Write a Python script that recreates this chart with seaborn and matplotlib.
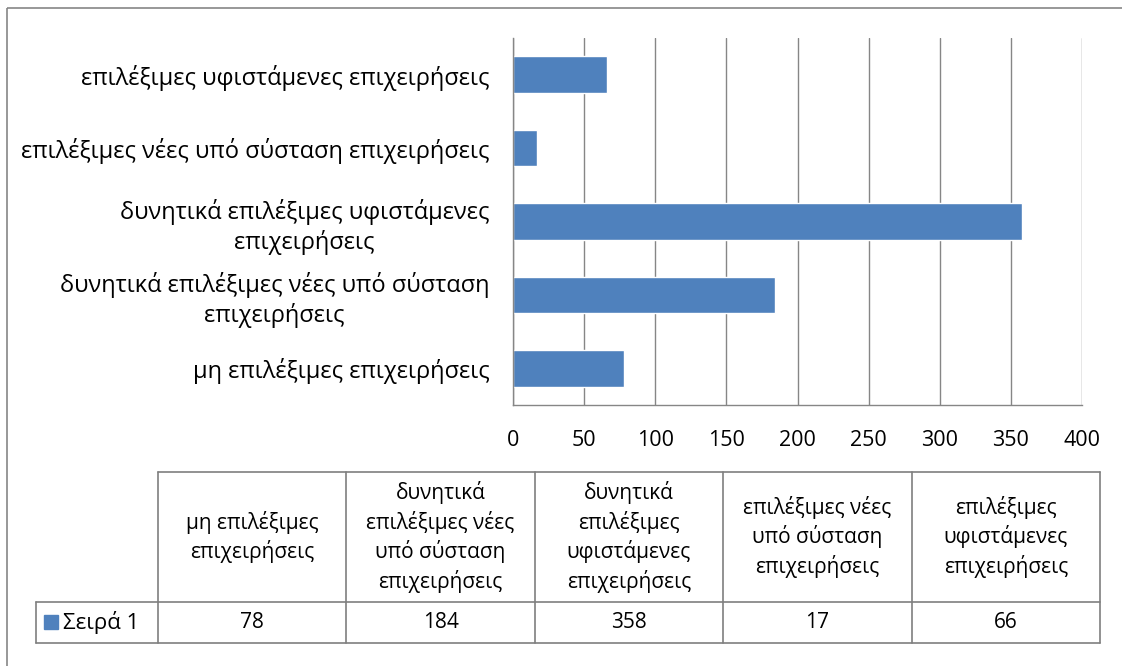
import numpy as np
import pandas as pd
import matplotlib
matplotlib.use('Agg')
import matplotlib.pyplot as plt
import seaborn as sns
from matplotlib.patches import Rectangle
from matplotlib.lines import Line2D

# data (table order)
categories = ['μη επιλέξιμες επιχειρήσεις',
              'δυνητικά επιλέξιμες νέες υπό σύσταση επιχειρήσεις',
              'δυνητικά επιλέξιμες υφιστάμενες επιχειρήσεις',
              'επιλέξιμες νέες υπό σύσταση επιχειρήσεις',
              'επιλέξιμες υφιστάμενες επιχειρήσεις']
values = [78, 184, 358, 17, 66]
series_name = 'Σειρά 1'

# wrapped labels
axis_labels = ['μη επιλέξιμες επιχειρήσεις',
               'δυνητικά επιλέξιμες νέες υπό σύσταση\nεπιχειρήσεις',
               'δυνητικά επιλέξιμες υφιστάμενες\nεπιχειρήσεις',
               'επιλέξιμες νέες υπό σύσταση επιχειρήσεις',
               'επιλέξιμες υφιστάμενες επιχειρήσεις']
table_labels = ['μη επιλέξιμες\nεπιχειρήσεις',
                'δυνητικά\nεπιλέξιμες νέες\nυπό σύσταση\nεπιχειρήσεις',
                'δυνητικά\nεπιλέξιμες\nυφιστάμενες\nεπιχειρήσεις',
                'επιλέξιμες νέες\nυπό σύσταση\nεπιχειρήσεις',
                'επιλέξιμες\nυφιστάμενες\nεπιχειρήσεις']
xticks = [0, 50, 100, 150, 200, 250, 300, 350, 400]

sns.set_style('white')
plt.rcParams['font.family'] = ['Open Sans', 'DejaVu Sans']
plt.rcParams['text.color'] = 'black'
plt.rcParams['xtick.color'] = 'black'
plt.rcParams['ytick.color'] = 'black'

BAR = '#4F81BD'
GRID = '#868686'
FS = 15

W, H = 1122, 666
fig = plt.figure(figsize=(W / 100, H / 100), dpi=100)

# overlay in pixel coords for frame and table
ov = fig.add_axes([0, 0, 1, 1])
ov.set_xlim(0, W)
ov.set_ylim(H, 0)
ov.axis('off')
ov.add_patch(Rectangle((7, 8), W + 10, H + 10, fill=False, ec=GRID, lw=1.2))

# bar chart
l, r, t, b = 513, 1082, 38, 405
ax = fig.add_axes([l / W, 1 - b / H, (r - l) / W, (b - t) / H])
df = pd.DataFrame({'cat': axis_labels, 'val': values})
order = axis_labels[::-1]
sns.barplot(data=df, x='val', y='cat', order=order, color=BAR, width=0.5,
            saturation=1, ax=ax)
ax.set_xlim(0, 400)
ax.set_xticks(xticks)
ax.grid(axis='x', color=GRID, lw=1)
ax.set_axisbelow(True)
ax.set_xlabel('')
ax.set_ylabel('')
for s in ['top', 'right']:
    ax.spines[s].set_visible(False)
for s in ['left', 'bottom']:
    ax.spines[s].set_color(GRID)
    ax.spines[s].set_linewidth(1)
ax.tick_params(axis='x', length=0, pad=18, labelsize=15.5)
ax.tick_params(axis='y', length=0, pad=17, labelsize=17)
for lab in ax.get_yticklabels():
    lab.set_multialignment('center')
    lab.set_linespacing(1.25)

# data table
col_x = np.linspace(158, 1100, len(categories) + 1)
hy0, hy1, vy1 = 472, 602, 643
lc = '#7F7F7F'
ov.add_line(Line2D([col_x[0], col_x[-1]], [hy0, hy0], color=lc, lw=1.2))
ov.add_line(Line2D([36, col_x[-1]], [hy1, hy1], color=lc, lw=1.2))
ov.add_line(Line2D([36, col_x[-1]], [vy1, vy1], color=lc, lw=1.2))
ov.add_line(Line2D([36, 36], [hy1, vy1], color=lc, lw=1.2))
for x in col_x:
    ov.add_line(Line2D([x, x], [hy0, vy1], color=lc, lw=1.2))
for i, (lab, v) in enumerate(zip(table_labels, values)):
    cx = (col_x[i] + col_x[i + 1]) / 2
    ov.text(cx, (hy0 + hy1) / 2, lab, ha='center', va='center',
            multialignment='center', fontsize=FS, linespacing=1.38)
    ov.text(cx, (hy1 + vy1) / 2, str(v), ha='center', va='center', fontsize=FS)
ov.add_patch(Rectangle((44, 615), 14, 14, color=BAR))
ov.text(63, (hy1 + vy1) / 2, series_name, ha='left', va='center', fontsize=16)

fig.savefig('out.png', dpi=100)
